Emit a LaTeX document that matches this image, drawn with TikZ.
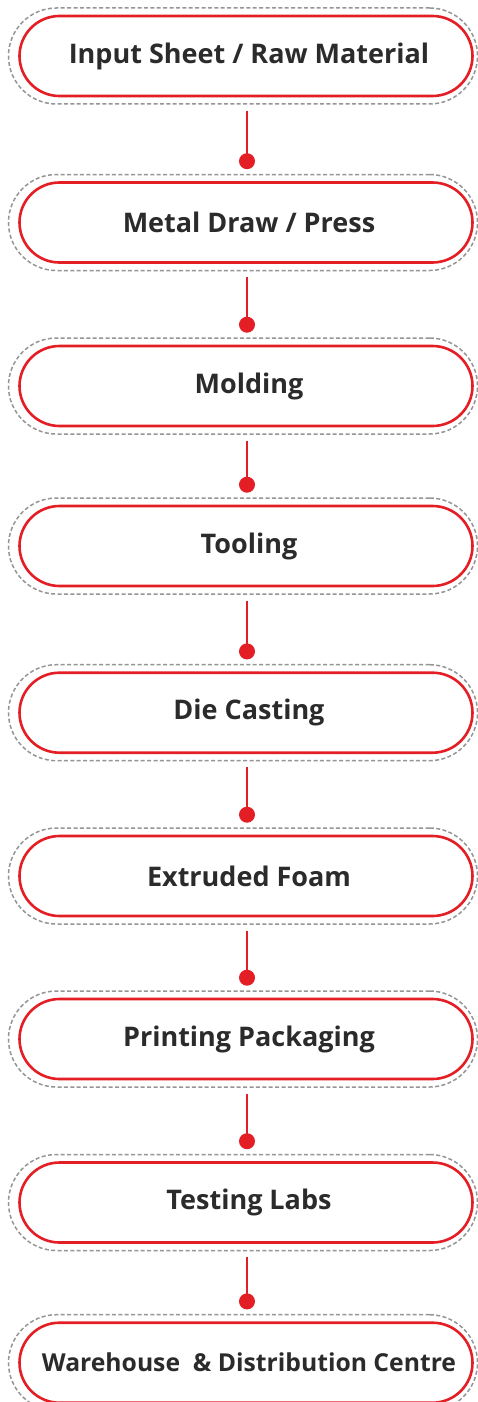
\documentclass[tikz,border=0pt]{standalone}
\usepackage{fontspec}
\setmainfont{Open Sans}
\definecolor{cred}{HTML}{E31E24}
\definecolor{cgray}{HTML}{959595}
\definecolor{ctext}{HTML}{2B2B2B}
\begin{document}
\begin{tikzpicture}[x=1pt,y=-1pt,
  stage/.style={draw=cred, line width=2.6pt, rounded corners=40pt, minimum width=453pt, minimum height=80pt, inner sep=0pt,
    font=\fontsize{27}{31}\selectfont\bfseries, text=ctext},
  halo/.style={draw=cgray, line width=1.5pt, dash pattern=on 4pt off 2.4pt, rounded corners=48pt, minimum width=469pt, minimum height=96pt, inner sep=0pt},
  conn/.style={draw=cred, line width=2.6pt},
  dot/.style={circle, fill=cred, inner sep=0pt, minimum size=16pt}]
\useasboundingbox (0,0) rectangle (478,1402);
\fill[white] (0,0) rectangle (478,1402);
\foreach \i/\y/\t in {1/56/{Input Sheet / Raw Material},2/222.5/{Metal Draw / Press},3/386/{Molding},4/546/{Tooling},5/712.7/{Die Casting},6/876/{Extruded Foam},7/1039/{Printing Packaging},8/1202.5/{Testing Labs},9/1362.7/{\fontsize{24.7}{29}\selectfont Warehouse~ \& Distribution Centre}}{
  \node[halo] (o\i) at (243,\y) {};
  \node[stage] (b\i) at (246,\y) {\hspace{6pt}\t};
}
\foreach \i/\j in {1/2,2/3,3/4,4/5,5/6,6/7,7/8,8/9}{
  \node[dot] (d\i) at ([yshift=20pt]b\j.north -| 247,0) {};
  \draw[conn, shorten <=6pt] (d\i |- o\i.south) -- (d\i.center);
}
\end{tikzpicture}
\end{document}
